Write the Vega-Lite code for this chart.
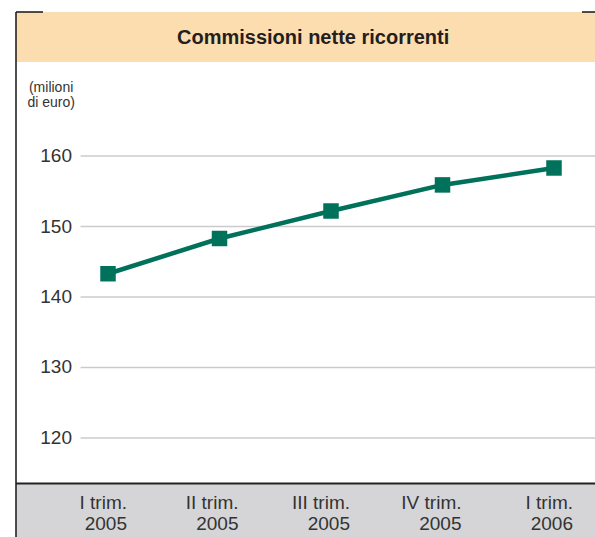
{
  "$schema": "https://vega.github.io/schema/vega-lite/v6.json",
  "width": 579,
  "height": 525,
  "padding": {"left": 16, "top": 12, "right": 0, "bottom": 0},
  "autosize": {"type": "none"},
  "background": "white",
  "config": {"view": {"stroke": null}},
  "datasets": {
    "series": [
      {"i": 0, "label": "I trim.", "year": "2005", "value": 143.3},
      {"i": 1, "label": "II trim.", "year": "2005", "value": 148.3},
      {"i": 2, "label": "III trim.", "year": "2005", "value": 152.2},
      {"i": 3, "label": "IV trim.", "year": "2005", "value": 155.9},
      {"i": 4, "label": "I trim.", "year": "2006", "value": 158.3}
    ],
    "ticks": [
      {"t": 120}, {"t": 130}, {"t": 140}, {"t": 150}, {"t": 160}
    ]
  },
  "layer": [
    {
      "data": {"values": [{}]},
      "mark": {"type": "rect", "color": "#FCDDB0"},
      "encoding": {
        "x": {"datum": -0.8251, "type": "quantitative", "scale": {"domain": [-0.8251, 4.3677], "nice": false, "zero": false}, "axis": null},
        "x2": {"datum": 4.3677},
        "y": {"datum": 180.426, "type": "quantitative", "scale": {"domain": [105.957, 180.426], "nice": false, "zero": false}, "axis": null},
        "y2": {"datum": 173.333}
      }
    },
    {
      "data": {"values": [{}]},
      "mark": {"type": "rect", "color": "#D5D5D7"},
      "encoding": {
        "x": {"datum": -0.8251, "type": "quantitative"},
        "x2": {"datum": 4.3677},
        "y": {"datum": 113.55, "type": "quantitative"},
        "y2": {"datum": 105.957}
      }
    },
    {
      "data": {"name": "ticks"},
      "mark": {"type": "rule", "color": "#CBCBCD", "strokeWidth": 1.6},
      "encoding": {
        "x": {"datum": -0.246, "type": "quantitative"},
        "x2": {"datum": 4.3677},
        "y": {"field": "t", "type": "quantitative"}
      }
    },
    {
      "data": {"name": "ticks"},
      "mark": {"type": "text", "align": "right", "baseline": "middle", "font": "Liberation Sans Narrow, Liberation Sans", "fontSize": 19, "color": "#333333"},
      "encoding": {
        "x": {"datum": -0.323, "type": "quantitative"},
        "y": {"field": "t", "type": "quantitative"},
        "text": {"field": "t", "type": "nominal"}
      }
    },
    {
      "data": {"values": [{}]},
      "mark": {"type": "rule", "color": "#222222", "strokeWidth": 2},
      "encoding": {
        "x": {"datum": -0.8251, "type": "quantitative"},
        "x2": {"datum": 4.3677},
        "y": {"datum": 113.55, "type": "quantitative"}
      }
    },
    {
      "data": {"values": [{"a": -0.8251, "b": -0.8251, "c": 180.426, "d": 105.957}, {"a": -0.8251, "b": -0.583, "c": 180.426, "d": 180.426}, {"a": 4.251, "b": 4.3677, "c": 180.426, "d": 180.426}]},
      "mark": {"type": "rule", "color": "#222222", "strokeWidth": 1.6},
      "encoding": {
        "x": {"field": "a", "type": "quantitative"},
        "x2": {"field": "b"},
        "y": {"field": "c", "type": "quantitative"},
        "y2": {"field": "d"}
      }
    },
    {
      "data": {"values": [{"txt": "Commissioni nette ricorrenti"}]},
      "mark": {"type": "text", "align": "center", "baseline": "middle", "font": "Liberation Sans", "fontWeight": "bold", "fontSize": 20, "color": "#231F20"},
      "encoding": {
        "x": {"datum": 1.84, "type": "quantitative"},
        "y": {"datum": 176.75, "type": "quantitative"},
        "text": {"field": "txt", "type": "nominal"}
      }
    },
    {
      "data": {"values": [{"txt": ["(milioni", "di euro)"]}]},
      "mark": {"type": "text", "align": "center", "baseline": "middle", "font": "Liberation Sans", "fontSize": 14, "color": "#333333", "lineHeight": 15},
      "encoding": {
        "x": {"datum": -0.51, "type": "quantitative"},
        "y": {"datum": 169.6, "type": "quantitative"},
        "text": {"field": "txt", "type": "nominal"}
      }
    },
    {
      "data": {"name": "series"},
      "mark": {"type": "line", "color": "#00715A", "strokeWidth": 4.5},
      "encoding": {
        "x": {"field": "i", "type": "quantitative"},
        "y": {"field": "value", "type": "quantitative"}
      }
    },
    {
      "data": {"name": "series"},
      "mark": {"type": "point", "shape": "square", "filled": true, "opacity": 1, "color": "#00715A", "size": 240},
      "encoding": {
        "x": {"field": "i", "type": "quantitative"},
        "y": {"field": "value", "type": "quantitative"}
      }
    },
    {
      "data": {"name": "series"},
      "mark": {"type": "text", "align": "right", "baseline": "middle", "font": "Liberation Sans Narrow, Liberation Sans", "fontSize": 19, "color": "#333333", "dx": 19, "dy": -13},
      "encoding": {
        "x": {"field": "i", "type": "quantitative"},
        "y": {"datum": 109.0, "type": "quantitative"},
        "text": {"field": "label", "type": "nominal"}
      }
    },
    {
      "data": {"name": "series"},
      "mark": {"type": "text", "align": "right", "baseline": "middle", "font": "Liberation Sans Narrow, Liberation Sans", "fontSize": 19, "color": "#333333", "dx": 19, "dy": 8},
      "encoding": {
        "x": {"field": "i", "type": "quantitative"},
        "y": {"datum": 109.0, "type": "quantitative"},
        "text": {"field": "year", "type": "nominal"}
      }
    }
  ]
}
